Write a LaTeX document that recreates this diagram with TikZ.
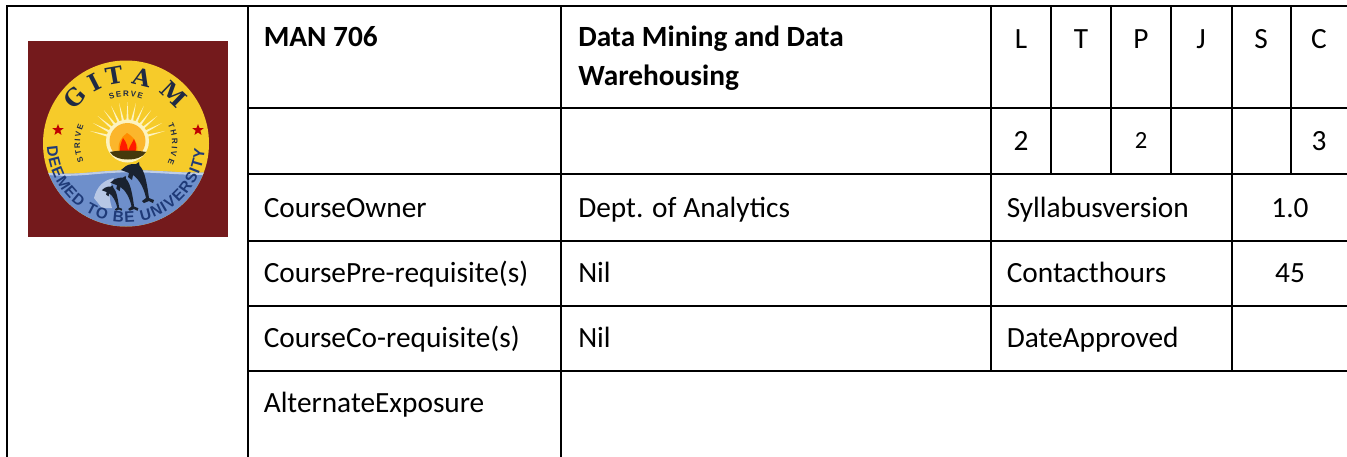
\documentclass[tikz,border=0pt]{standalone}
\usepackage{fontspec}
\setmainfont{Carlito}
\newfontfamily\logoserif{DejaVu Serif}
\newfontfamily\logosans{Liberation Sans}
\usetikzlibrary{decorations.text,shapes.geometric}
\definecolor{maroon}{HTML}{741A1C}
\definecolor{sunY}{HTML}{F6CB2A}
\definecolor{sunO}{HTML}{FBB62C}
\definecolor{seaB}{HTML}{6E8FCB}
\definecolor{inkB}{HTML}{1F2A44}
\definecolor{deepB}{HTML}{1F3A78}
\definecolor{dolph}{HTML}{1A2230}
\definecolor{rayW}{HTML}{FDF3C0}
\tikzset{
  x=0.75pt,y=-0.75pt,
  rule/.style={line width=1.5pt,black},
  cell/.style={anchor=base west,inner sep=0pt,font=\fontsize{22pt}{22pt}\selectfont,text=black},
  head/.style={cell,font=\fontsize{22pt}{22pt}\selectfont\bfseries},
  mid/.style={cell,anchor=base},
  arcb/.style={decorate,decoration={text along path,text align={fit to path},text={#1}}},
  logostar/.style={star,star points=5,star point ratio=2.4,fill=red!75!black,inner sep=0pt,minimum size=9pt},
  bigletter/.style={inner sep=0pt,font=\logoserif\fontsize{17.5pt}{17.5pt}\selectfont\bfseries,text=inkB},
  dolphinpic/.pic={
    \fill[dolph] (-2,2) -- (3,-2) .. controls (6,-4) and (10,-4) .. (13,-4) -- (16,-6) -- (16.5,-2.5)
      .. controls (22,3) and (24,16) .. (26,30) -- (31,32) -- (30,35) -- (26,33) -- (21,35) -- (19,33) -- (23,30)
      .. controls (21,20) and (16,11) .. (10,7) -- (9,12) -- (5,9) -- (6,5) -- (2,3.5) -- cycle;
  },
}
\begin{document}
\begin{tikzpicture}
\useasboundingbox (0,0) rectangle (1347,457);
% logo
\fill[maroon] (28,41) rectangle (228,237);
\begin{scope}
\clip (126,143.5) circle[radius=83];
\fill[sunY] (40,50) rectangle (215,235);
\fill[seaB] (40,172) .. controls (70,176) and (90,172) .. (110,171) .. controls (150,168) and (185,175) .. (215,172) -- (215,235) -- (40,235) -- cycle;
\draw[white!55!seaB,line width=1.6pt] (40,173) .. controls (70,177) and (90,173) .. (110,172) .. controls (150,169) and (185,176) .. (215,173);
\fill[white!50!seaB] (94,198) .. controls (97,186) and (104,180) .. (114,178) .. controls (109,186) and (108,196) .. (112,208) -- (102,208) -- cycle;
\end{scope}
% rays
\coordinate (sunC) at (127.5,141);
\foreach \a in {-75,-62.5,...,75}
  \fill[rayW] ([shift={(270+\a-3:21)}]sunC) -- ([shift={(270+\a:39)}]sunC) -- ([shift={(270+\a+3:21)}]sunC) -- cycle;
\fill[rayW] (sunC) circle[radius=21.5];
\fill[sunO] (sunC) circle[radius=18];
% flame
\fill[orange!90!yellow] (119,153) .. controls (117,144) and (121,137) .. (127,133) .. controls (134,137) and (139,144) .. (137,153) -- cycle;
\fill[red!80!orange] (120,154) .. controls (119,147) and (121,143) .. (123,138) .. controls (127,143) and (128,147) .. (128,154) -- cycle;
\fill[red!80!orange] (127,154) .. controls (129,147) and (132,143) .. (134,139) .. controls (137,145) and (137,150) .. (134,154) -- cycle;
\fill[black!72!sunY] (110,152) .. controls (118,150) and (136,150) .. (146,152) .. controls (141,162) and (115,162) .. (110,152) -- cycle;
% dolphins
\pic at (123,168) {dolphinpic};
\pic[scale=.85] at (112,181) {dolphinpic};
\pic[scale=.62] at (103,189) {dolphinpic};
% stars
\node[logostar] (starL) at (58,130) {};
\node[logostar] (starR) at (198,130) {};
% arc lettering
\coordinate (logoC) at (126,143.5);
\foreach \n/\l/\t in {g/G/222,i/I/243,t/T/260,a/A/284,m/M/314}{
  \pgfmathsetmacro{\rr}{270-\t}
  \node[bigletter,rotate=\rr] (\n) at ([shift={(\t:68.5)}]logoC) {\l};
}
\path[arcb={|\logosans\fontsize{6pt}{7pt}\selectfont\bfseries\color{inkB}|SERVE}] ([shift={(250:47)}]logoC) arc[start angle=250,end angle=290,radius=47];
\path[arcb={|\logosans\fontsize{11.5pt}{13pt}\selectfont\bfseries\color{deepB}|DEEMED TO BE UNIVERSITY}] ([shift={(178:79)}]logoC) arc[start angle=178,end angle=4,radius=79];
\path[arcb={|\logosans\fontsize{6pt}{7pt}\selectfont\bfseries\color{inkB}|STRIVE}] ([shift={(157:46)}]logoC) arc[start angle=157,end angle=203,radius=46];
\path[arcb={|\logosans\fontsize{6pt}{7pt}\selectfont\bfseries\color{inkB}|THRIVE}] ([shift={(-25:46)}]logoC) arc[start angle=-25,end angle=25,radius=46];
% rules
\draw[rule] (6,6) -- (1347,6);
\foreach \y in {108,174,241,306,371} \draw[rule] (248,\y) -- (1347,\y);
\draw[rule] (7,5) -- (7,457);
\draw[rule] (248,6) -- (248,457);
\draw[rule] (561,6) -- (561,457);
\draw[rule] (991,6) -- (991,371);
\draw[rule] (1232,6) -- (1232,371);
\foreach \x in {1051,1111,1171,1291} \draw[rule] (\x,6) -- (\x,174);
% text
\node[head] (code) at (263.5,46.7) {MAN 706};
\node[head] (title1) at (578,46.7) {Data Mining and Data};
\node[head] (title2) at (578,85) {Warehousing};
\foreach \n/\t/\x in {cL/L/1021,cT/T/1081,cP/P/1141,cJ/J/1201,cS/S/1261,cC/C/1319}
  \node[mid] (\n) at (\x,48) {\t};
\node[mid] (vL) at (1021,150) {2};
\node[mid,font=\fontsize{18.5pt}{18.5pt}\selectfont] (vP) at (1141,148.5) {2};
\node[mid] (vC) at (1319,150) {3};
\node[cell] (owner) at (263.5,217) {CourseOwner};
\node[cell] (dept) at (578,217) {Dept. of Analytics};
\node[cell] (syl) at (1006.5,217) {Syllabusversion};
\node[mid] (ver) at (1290,217) {1.0};
\node[cell] (pre) at (263.5,282) {CoursePre-requisite(s)};
\node[cell] (nil1) at (578,282) {Nil};
\node[cell] (contact) at (1006.5,282) {Contacthours};
\node[mid] (hrs) at (1290,282) {45};
\node[cell] (co) at (263.5,347) {CourseCo-requisite(s)};
\node[cell] (nil2) at (578,347) {Nil};
\node[cell] (date) at (1006.5,347) {DateApproved};
\node[cell] (alt) at (263.5,412) {AlternateExposure};
\end{tikzpicture}
\end{document}
